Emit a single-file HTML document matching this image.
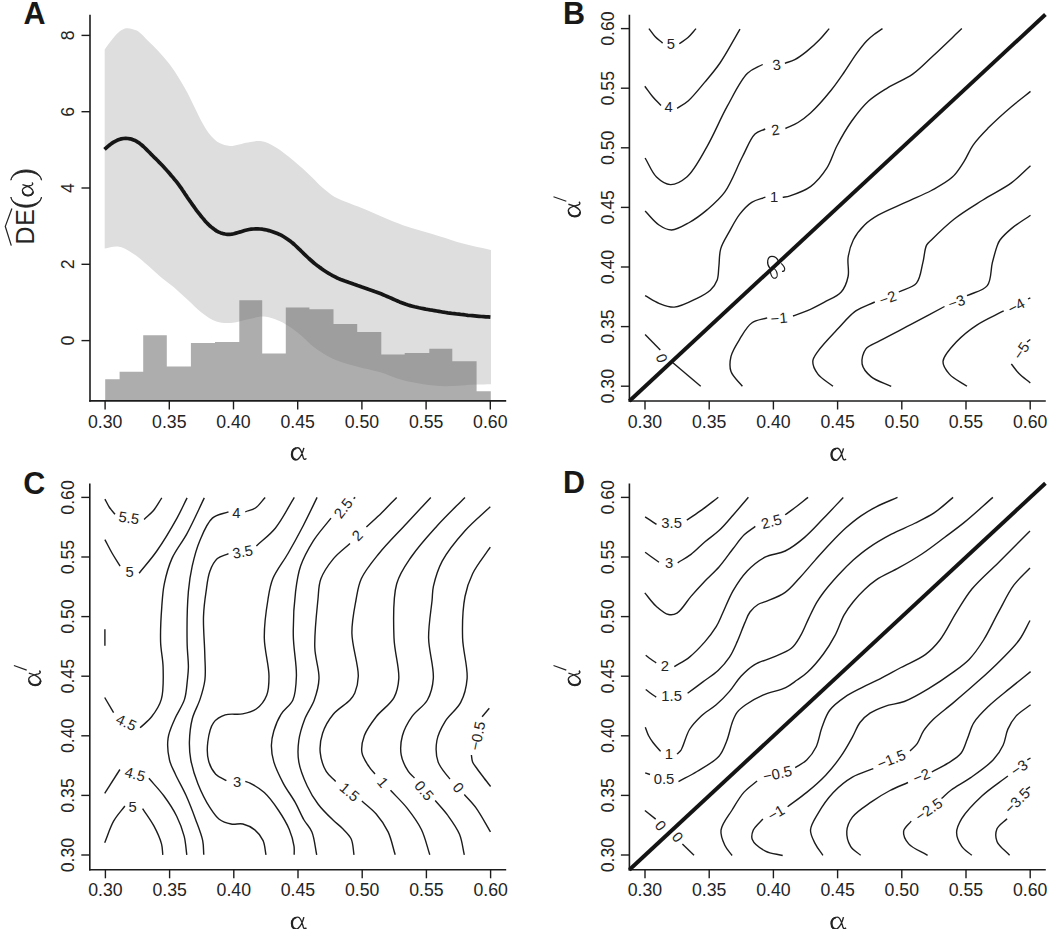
<!DOCTYPE html><html><head><meta charset="utf-8"><style>html,body{margin:0;padding:0;background:#fff;width:1050px;height:929px;overflow:hidden}svg{display:block}</style></head><body><svg width="1050" height="929" viewBox="0 0 1050 929"><path d="M104.7 49.4C106.8 46.5 108.8 43.6 111.1 40.8C113.5 37.9 116.0 34.3 118.7 32.2C121.0 30.4 123.6 28.8 126.0 28.3C128.0 27.9 130.0 28.4 132.0 28.9C134.1 29.4 136.2 30.0 138.4 31.4C141.5 33.4 144.9 37.8 148.2 41.0C151.5 44.2 154.8 47.4 158.0 50.8C161.3 54.4 164.6 58.0 167.8 62.0C171.2 66.3 174.6 71.2 177.6 75.9C180.6 80.5 183.2 85.0 185.9 89.9C188.8 95.2 191.5 101.1 194.3 106.7C197.1 112.3 199.7 118.4 202.7 123.5C205.4 128.1 208.0 132.7 211.1 136.1C213.7 139.0 216.3 141.5 219.5 143.1C222.6 144.7 226.0 145.8 230.0 145.9C235.2 146.1 242.5 143.2 248.1 142.4C252.9 141.7 257.3 140.6 261.7 141.3C266.3 142.0 270.5 144.3 275.2 147.0C281.0 150.3 287.4 155.7 293.3 160.5C299.4 165.5 306.1 171.7 311.4 176.7C315.7 180.8 319.0 184.7 322.9 188.1C326.6 191.3 330.1 194.2 334.3 196.7C338.9 199.4 344.3 201.1 349.5 203.3C355.0 205.6 361.0 207.6 366.7 210.0C372.4 212.4 377.9 215.1 383.8 217.6C390.0 220.2 396.5 223.0 402.9 225.2C409.2 227.4 415.6 229.1 421.9 231.0C428.3 232.9 434.5 234.7 441.0 236.7C447.8 238.8 454.3 241.2 461.9 243.3C470.8 245.7 481.3 247.8 491.0 250.0L491 384.2C486.0 384.3 481.8 384.4 475.9 384.6C467.5 384.9 454.6 386.4 445.2 386.2C437.3 386.0 430.6 385.3 423.3 384.2C416.0 383.1 408.6 381.8 401.4 379.8C394.0 377.8 386.9 374.3 379.5 372.1C372.3 369.9 364.9 368.7 357.6 366.7C350.3 364.7 342.8 363.2 335.7 360.1C328.2 356.8 319.7 351.4 313.8 347.0C309.3 343.7 306.6 340.2 302.9 337.1C299.3 334.0 295.8 331.0 291.9 328.3C287.8 325.5 283.4 322.6 278.8 320.7C274.1 318.7 269.0 316.9 263.9 316.6C258.7 316.3 253.5 318.2 248.1 319.2C242.4 320.3 236.2 322.6 230.7 322.9C225.7 323.2 221.0 322.9 216.4 321.4C211.4 319.8 206.7 316.3 202.1 312.9C197.2 309.3 192.6 304.3 187.9 300.0C183.1 295.7 178.4 291.2 173.6 287.1C168.9 283.1 164.0 279.7 159.3 275.7C154.5 271.6 149.7 266.8 145.0 262.9C140.7 259.3 136.7 255.6 132.1 252.9C127.6 250.2 122.6 247.2 117.9 246.6C113.5 246.0 109.1 247.9 104.7 248.6Z" fill="#dedede" stroke="none"/><path d="M105.2 400.9L105.2 379.3L119.6 379.3L119.6 371.8L143.2 371.8L143.2 335.2L166.8 335.2L166.8 366.6L190.9 366.6L190.9 343.1L215.0 343.1L215.0 341.9L239.3 341.9L239.3 300.2L262.2 300.2L262.2 353.6L285.8 353.6L285.8 307.5L309.4 307.5L309.4 309.3L333.5 309.3L333.5 324.0L357.2 324.0L357.2 332.0L381.3 332.0L381.3 354.6L404.7 354.6L404.7 353.1L429.3 353.1L429.3 348.7L452.3 348.7L452.3 361.2L476.6 361.2L476.6 391.2L490.8 391.2L490.8 400.9Z" fill="#696969" fill-opacity="0.545" stroke="none"/><path d="M104.5 149.4L106.2 147.9L107.9 146.4L109.6 145.0L111.4 143.6L113.2 142.4L115.1 141.3L117.1 140.3L119.2 139.5L121.3 138.9L123.5 138.5L125.7 138.4L127.9 138.5L130.1 138.8L132.2 139.4L134.3 140.2L136.2 141.2L138.1 142.3L139.9 143.6L141.7 145.0L143.4 146.5L145.0 148.0L146.6 149.6L148.2 151.2L149.8 152.8L151.3 154.4L152.9 156.0L154.5 157.6L156.2 159.2L157.8 160.8L159.3 162.4L160.9 164.0L162.4 165.6L164.0 167.3L165.5 168.9L167.0 170.6L168.5 172.3L170.0 174.0L171.4 175.7L172.9 177.4L174.3 179.2L175.8 180.9L177.2 182.7L178.5 184.4L179.9 186.3L181.2 188.1L182.4 190.0L183.7 191.8L184.9 193.7L186.2 195.6L187.4 197.5L188.7 199.3L190.0 201.2L191.3 203.0L192.6 204.9L193.9 206.7L195.2 208.5L196.5 210.3L197.9 212.1L199.3 213.9L200.7 215.7L202.1 217.4L203.6 219.1L205.0 220.9L206.5 222.5L208.1 224.1L209.7 225.7L211.4 227.1L213.2 228.5L215.0 229.9L216.8 231.1L218.8 232.1L220.8 232.9L223.0 233.6L225.1 234.0L227.3 234.3L229.5 234.3L231.7 234.1L233.8 233.7L236.0 233.1L238.2 232.5L240.3 231.9L242.5 231.2L244.6 230.5L246.8 230.0L249.0 229.5L251.2 229.2L253.4 229.0L255.7 228.9L257.9 228.9L260.1 229.0L262.4 229.2L264.6 229.6L266.8 230.0L268.9 230.6L271.1 231.3L273.2 232.0L275.3 232.8L277.4 233.6L279.5 234.4L281.5 235.4L283.4 236.5L285.3 237.7L287.2 239.0L289.0 240.3L290.8 241.6L292.6 243.0L294.3 244.5L295.9 246.0L297.6 247.6L299.2 249.2L300.8 250.7L302.4 252.3L304.0 253.9L305.6 255.4L307.3 257.0L308.9 258.5L310.6 260.0L312.3 261.5L314.0 263.0L315.7 264.4L317.5 265.8L319.3 267.1L321.2 268.4L323.0 269.7L324.9 271.0L326.8 272.2L328.7 273.4L330.6 274.5L332.6 275.6L334.6 276.6L336.6 277.7L338.6 278.6L340.7 279.5L342.8 280.3L344.9 281.1L347.0 281.8L349.1 282.6L351.3 283.3L353.4 284.1L355.5 284.8L357.6 285.6L359.8 286.3L361.9 287.1L364.0 287.8L366.2 288.5L368.3 289.3L370.4 290.0L372.6 290.7L374.7 291.5L376.8 292.2L378.9 293.0L381.0 293.8L383.1 294.7L385.2 295.6L387.2 296.5L389.3 297.4L391.4 298.3L393.4 299.2L395.5 300.1L397.5 301.0L399.6 301.9L401.7 302.7L403.8 303.5L405.9 304.3L408.1 305.0L410.2 305.6L412.4 306.2L414.6 306.8L416.8 307.3L419.0 307.8L421.2 308.2L423.4 308.6L425.6 309.1L427.8 309.5L430.0 309.9L432.3 310.2L434.5 310.6L436.7 311.0L438.9 311.4L441.1 311.8L443.4 312.2L445.6 312.5L447.8 312.9L450.0 313.2L452.3 313.5L454.5 313.7L456.8 314.0L459.0 314.2L461.2 314.5L463.5 314.7L465.7 315.0L467.9 315.3L470.2 315.5L472.4 315.7L474.7 315.9L476.9 316.1L479.2 316.3L481.4 316.5L483.7 316.6L485.9 316.8L488.2 316.9L490.4 317.1" fill="none" stroke="#161616" stroke-width="3.70" stroke-linejoin="round"/><line x1="90.0" y1="14.7" x2="90.0" y2="401.7" stroke="#1c1c1c" stroke-width="1.60"/><line x1="89.2" y1="400.9" x2="506.2" y2="400.9" stroke="#1c1c1c" stroke-width="1.60"/><line x1="105.1" y1="400.9" x2="105.1" y2="409.4" stroke="#1c1c1c" stroke-width="1.40"/><text x="105.10" y="428.10" font-size="17.70" text-anchor="middle" font-weight="normal" font-family='"Liberation Sans", sans-serif' fill="#242424">0.30</text><line x1="169.3" y1="400.9" x2="169.3" y2="409.4" stroke="#1c1c1c" stroke-width="1.40"/><text x="169.30" y="428.10" font-size="17.70" text-anchor="middle" font-weight="normal" font-family='"Liberation Sans", sans-serif' fill="#242424">0.35</text><line x1="233.5" y1="400.9" x2="233.5" y2="409.4" stroke="#1c1c1c" stroke-width="1.40"/><text x="233.50" y="428.10" font-size="17.70" text-anchor="middle" font-weight="normal" font-family='"Liberation Sans", sans-serif' fill="#242424">0.40</text><line x1="297.7" y1="400.9" x2="297.7" y2="409.4" stroke="#1c1c1c" stroke-width="1.40"/><text x="297.70" y="428.10" font-size="17.70" text-anchor="middle" font-weight="normal" font-family='"Liberation Sans", sans-serif' fill="#242424">0.45</text><line x1="361.9" y1="400.9" x2="361.9" y2="409.4" stroke="#1c1c1c" stroke-width="1.40"/><text x="361.90" y="428.10" font-size="17.70" text-anchor="middle" font-weight="normal" font-family='"Liberation Sans", sans-serif' fill="#242424">0.50</text><line x1="426.1" y1="400.9" x2="426.1" y2="409.4" stroke="#1c1c1c" stroke-width="1.40"/><text x="426.10" y="428.10" font-size="17.70" text-anchor="middle" font-weight="normal" font-family='"Liberation Sans", sans-serif' fill="#242424">0.55</text><line x1="490.3" y1="400.9" x2="490.3" y2="409.4" stroke="#1c1c1c" stroke-width="1.40"/><text x="490.30" y="428.10" font-size="17.70" text-anchor="middle" font-weight="normal" font-family='"Liberation Sans", sans-serif' fill="#242424">0.60</text><line x1="81.5" y1="340.6" x2="90.0" y2="340.6" stroke="#1c1c1c" stroke-width="1.40"/><text x="73.60" y="340.60" font-size="17.70" text-anchor="middle" font-weight="normal" font-family='"Liberation Sans", sans-serif' fill="#242424" transform="rotate(-90.0 73.6 340.6)">0</text><line x1="81.5" y1="264.3" x2="90.0" y2="264.3" stroke="#1c1c1c" stroke-width="1.40"/><text x="73.60" y="264.30" font-size="17.70" text-anchor="middle" font-weight="normal" font-family='"Liberation Sans", sans-serif' fill="#242424" transform="rotate(-90.0 73.6 264.3)">2</text><line x1="81.5" y1="188.0" x2="90.0" y2="188.0" stroke="#1c1c1c" stroke-width="1.40"/><text x="73.60" y="188.00" font-size="17.70" text-anchor="middle" font-weight="normal" font-family='"Liberation Sans", sans-serif' fill="#242424" transform="rotate(-90.0 73.6 188.0)">4</text><line x1="81.5" y1="111.7" x2="90.0" y2="111.7" stroke="#1c1c1c" stroke-width="1.40"/><text x="73.60" y="111.70" font-size="17.70" text-anchor="middle" font-weight="normal" font-family='"Liberation Sans", sans-serif' fill="#242424" transform="rotate(-90.0 73.6 111.7)">6</text><line x1="81.5" y1="35.4" x2="90.0" y2="35.4" stroke="#1c1c1c" stroke-width="1.40"/><text x="73.60" y="35.40" font-size="17.70" text-anchor="middle" font-weight="normal" font-family='"Liberation Sans", sans-serif' fill="#242424" transform="rotate(-90.0 73.6 35.4)">8</text><g transform="translate(291.00 447.50)"><path d="M12.9 0.4C12 4 10.5 9 7 11.6C4.6 13.3 0.5 12.2 0.5 6.6C0.5 2.6 3.5 0.3 6.8 0.3C10 0.3 11.1 6 12.2 10C12.8 12 14 12.6 15.4 10.9" fill="none" stroke="#242424" stroke-width="1.4"/><path d="M5.2 12.1C2.2 11.8 1.1 9.4 1.1 6.6C1.1 3.8 2.6 1.2 5.3 0.8" fill="none" stroke="#242424" stroke-width="1.9"/></g><text x="23.60" y="24.10" font-size="30.50" text-anchor="start" font-weight="bold" font-family='"Liberation Sans", sans-serif' fill="#181818">A</text><text x="33.90" y="244.60" font-size="25.00" text-anchor="start" font-weight="normal" font-family='"Liberation Sans", sans-serif' fill="#242424" transform="rotate(-90.0 33.9 244.6)">D</text><text x="33.90" y="225.80" font-size="25.00" text-anchor="start" font-weight="normal" font-family='"Liberation Sans", sans-serif' fill="#242424" transform="rotate(-90.0 33.9 225.8)">E</text><path d="M10.9 197.0C12.6 210.6 39.8 210.6 41.5 197.0C39.8 208.0 12.6 208.0 10.9 197.0Z" fill="#242424" stroke="#242424" stroke-width="0.9"/><path d="M10.9 180.2C12.6 166.6 39.8 166.6 41.5 180.2C39.8 169.2 12.6 169.2 10.9 180.2Z" fill="#242424" stroke="#242424" stroke-width="0.9"/><g transform="translate(22.10 196.30) rotate(-90) scale(0.900)"><path d="M12.9 0.4C12 4 10.5 9 7 11.6C4.6 13.3 0.5 12.2 0.5 6.6C0.5 2.6 3.5 0.3 6.8 0.3C10 0.3 11.1 6 12.2 10C12.8 12 14 12.6 15.4 10.9" fill="none" stroke="#242424" stroke-width="1.4"/><path d="M5.2 12.1C2.2 11.8 1.1 9.4 1.1 6.6C1.1 3.8 2.6 1.2 5.3 0.8" fill="none" stroke="#242424" stroke-width="1.9"/></g><path d="M11.9 208.5L5.3 226.4L11.3 245.6" fill="none" stroke="#242424" stroke-width="1.25"/><g fill="none" stroke="#1c1c1c" stroke-width="1.2"><path d="M769.8 268.2C766.2 263.5 767.2 256.6 771.8 256.4C775.2 256.3 777.3 258.6 778.4 261"/><ellipse cx="773.9" cy="273.4" rx="3.1" ry="5" transform="rotate(-18 773.9 273.4)"/><path d="M781.2 263.4C783.5 265.5 785 268 784.6 269.7C784.2 271 783 271.6 782 271.4"/></g><line x1="629.4" y1="14.7" x2="629.4" y2="401.8" stroke="#1c1c1c" stroke-width="1.60"/><line x1="628.6" y1="401.0" x2="1045.8" y2="401.0" stroke="#1c1c1c" stroke-width="1.60"/><line x1="645.0" y1="401.0" x2="645.0" y2="409.5" stroke="#1c1c1c" stroke-width="1.40"/><text x="645.00" y="428.10" font-size="17.70" text-anchor="middle" font-weight="normal" font-family='"Liberation Sans", sans-serif' fill="#242424">0.30</text><line x1="709.2" y1="401.0" x2="709.2" y2="409.5" stroke="#1c1c1c" stroke-width="1.40"/><text x="709.20" y="428.10" font-size="17.70" text-anchor="middle" font-weight="normal" font-family='"Liberation Sans", sans-serif' fill="#242424">0.35</text><line x1="773.4" y1="401.0" x2="773.4" y2="409.5" stroke="#1c1c1c" stroke-width="1.40"/><text x="773.40" y="428.10" font-size="17.70" text-anchor="middle" font-weight="normal" font-family='"Liberation Sans", sans-serif' fill="#242424">0.40</text><line x1="837.6" y1="401.0" x2="837.6" y2="409.5" stroke="#1c1c1c" stroke-width="1.40"/><text x="837.60" y="428.10" font-size="17.70" text-anchor="middle" font-weight="normal" font-family='"Liberation Sans", sans-serif' fill="#242424">0.45</text><line x1="901.8" y1="401.0" x2="901.8" y2="409.5" stroke="#1c1c1c" stroke-width="1.40"/><text x="901.80" y="428.10" font-size="17.70" text-anchor="middle" font-weight="normal" font-family='"Liberation Sans", sans-serif' fill="#242424">0.50</text><line x1="966.0" y1="401.0" x2="966.0" y2="409.5" stroke="#1c1c1c" stroke-width="1.40"/><text x="966.00" y="428.10" font-size="17.70" text-anchor="middle" font-weight="normal" font-family='"Liberation Sans", sans-serif' fill="#242424">0.55</text><line x1="1030.2" y1="401.0" x2="1030.2" y2="409.5" stroke="#1c1c1c" stroke-width="1.40"/><text x="1030.20" y="428.10" font-size="17.70" text-anchor="middle" font-weight="normal" font-family='"Liberation Sans", sans-serif' fill="#242424">0.60</text><line x1="620.9" y1="386.2" x2="629.4" y2="386.2" stroke="#1c1c1c" stroke-width="1.40"/><text x="613.80" y="386.20" font-size="17.70" text-anchor="middle" font-weight="normal" font-family='"Liberation Sans", sans-serif' fill="#242424" transform="rotate(-90.0 613.8 386.2)">0.30</text><line x1="620.9" y1="326.6" x2="629.4" y2="326.6" stroke="#1c1c1c" stroke-width="1.40"/><text x="613.80" y="326.60" font-size="17.70" text-anchor="middle" font-weight="normal" font-family='"Liberation Sans", sans-serif' fill="#242424" transform="rotate(-90.0 613.8 326.6)">0.35</text><line x1="620.9" y1="267.0" x2="629.4" y2="267.0" stroke="#1c1c1c" stroke-width="1.40"/><text x="613.80" y="267.00" font-size="17.70" text-anchor="middle" font-weight="normal" font-family='"Liberation Sans", sans-serif' fill="#242424" transform="rotate(-90.0 613.8 267.0)">0.40</text><line x1="620.9" y1="207.4" x2="629.4" y2="207.4" stroke="#1c1c1c" stroke-width="1.40"/><text x="613.80" y="207.40" font-size="17.70" text-anchor="middle" font-weight="normal" font-family='"Liberation Sans", sans-serif' fill="#242424" transform="rotate(-90.0 613.8 207.4)">0.45</text><line x1="620.9" y1="147.8" x2="629.4" y2="147.8" stroke="#1c1c1c" stroke-width="1.40"/><text x="613.80" y="147.80" font-size="17.70" text-anchor="middle" font-weight="normal" font-family='"Liberation Sans", sans-serif' fill="#242424" transform="rotate(-90.0 613.8 147.8)">0.50</text><line x1="620.9" y1="88.2" x2="629.4" y2="88.2" stroke="#1c1c1c" stroke-width="1.40"/><text x="613.80" y="88.20" font-size="17.70" text-anchor="middle" font-weight="normal" font-family='"Liberation Sans", sans-serif' fill="#242424" transform="rotate(-90.0 613.8 88.2)">0.55</text><line x1="620.9" y1="28.6" x2="629.4" y2="28.6" stroke="#1c1c1c" stroke-width="1.40"/><text x="613.80" y="28.60" font-size="17.70" text-anchor="middle" font-weight="normal" font-family='"Liberation Sans", sans-serif' fill="#242424" transform="rotate(-90.0 613.8 28.6)">0.60</text><g transform="translate(830.60 448.00)"><path d="M12.9 0.4C12 4 10.5 9 7 11.6C4.6 13.3 0.5 12.2 0.5 6.6C0.5 2.6 3.5 0.3 6.8 0.3C10 0.3 11.1 6 12.2 10C12.8 12 14 12.6 15.4 10.9" fill="none" stroke="#242424" stroke-width="1.4"/><path d="M5.2 12.1C2.2 11.8 1.1 9.4 1.1 6.6C1.1 3.8 2.6 1.2 5.3 0.8" fill="none" stroke="#242424" stroke-width="1.9"/></g><g transform="translate(568.00 217.20) rotate(-90)"><path d="M12.9 0.4C12 4 10.5 9 7 11.6C4.6 13.3 0.5 12.2 0.5 6.6C0.5 2.6 3.5 0.3 6.8 0.3C10 0.3 11.1 6 12.2 10C12.8 12 14 12.6 15.4 10.9" fill="none" stroke="#242424" stroke-width="1.4"/><path d="M5.2 12.1C2.2 11.8 1.1 9.4 1.1 6.6C1.1 3.8 2.6 1.2 5.3 0.8" fill="none" stroke="#242424" stroke-width="1.9"/></g><line x1="553.5" y1="196.7" x2="566.3" y2="201.3" stroke="#242424" stroke-width="1.20"/><text x="562.90" y="24.10" font-size="30.50" text-anchor="start" font-weight="bold" font-family='"Liberation Sans", sans-serif' fill="#181818">B</text><path d="M648.9 28.6C650.9 31.2 652.7 34.1 655.0 36.5C657.3 38.9 660.1 40.9 662.6 43.1" fill="none" stroke="#1c1c1c" stroke-width="1.40" stroke-linejoin="round"/><path d="M679.3 43.7C682.2 41.6 685.3 39.9 688.0 37.5C690.9 34.9 693.3 31.6 696.0 28.6" fill="none" stroke="#1c1c1c" stroke-width="1.40" stroke-linejoin="round"/><path d="M644.8 86.2C647.4 89.6 649.8 93.2 652.5 96.5C655.2 99.7 658.2 102.6 661.0 105.6" fill="none" stroke="#1c1c1c" stroke-width="1.40" stroke-linejoin="round"/><path d="M677.1 108.3C680.9 105.8 684.5 104.1 688.4 100.7C693.6 96.1 699.3 88.7 704.6 82.4C709.9 76.1 714.8 70.6 720.0 63.0C726.6 53.5 733.3 40.4 740.0 29.1" fill="none" stroke="#1c1c1c" stroke-width="1.40" stroke-linejoin="round"/><path d="M645.1 158.0C648.9 164.3 651.8 172.5 656.5 177.0C660.5 180.8 665.5 184.4 670.4 184.6C675.6 184.8 681.6 181.4 686.8 177.0C694.1 170.7 700.6 157.7 707.0 146.6C714.1 134.3 720.3 118.8 727.3 106.2C733.8 94.5 740.3 80.3 747.5 73.3C752.4 68.6 757.6 67.4 762.7 64.5" fill="none" stroke="#1c1c1c" stroke-width="1.40" stroke-linejoin="round"/><path d="M784.9 63.3C788.2 62.1 791.5 61.3 794.8 59.6C798.6 57.6 802.5 54.7 806.4 51.6C810.7 48.2 815.6 43.8 819.5 39.8C823.1 36.1 826.0 32.3 829.2 28.6" fill="none" stroke="#1c1c1c" stroke-width="1.40" stroke-linejoin="round"/><path d="M645.1 211.1C649.7 215.7 654.1 221.8 659.0 225.0C663.0 227.7 667.1 230.1 671.6 230.0C677.0 229.9 683.6 225.7 689.3 222.5C695.4 219.1 701.3 214.7 707.0 209.9C713.1 204.7 719.3 199.6 724.7 192.2C731.4 182.8 736.9 167.3 742.4 156.8C746.9 148.3 750.2 138.5 755.0 134.0C758.2 131.0 761.8 130.7 765.2 129.0" fill="none" stroke="#1c1c1c" stroke-width="1.40" stroke-linejoin="round"/><path d="M785.4 128.5C789.6 126.5 793.9 125.0 798.0 122.5C802.3 119.9 806.0 117.1 810.5 113.0C816.7 107.3 825.0 97.8 830.9 90.5C836.0 84.2 840.0 78.2 844.3 72.0C848.6 65.8 852.7 58.9 856.7 53.4C860.1 48.8 863.3 44.5 866.6 41.0C869.4 38.1 872.4 35.8 875.2 33.6C877.7 31.7 880.1 30.3 882.5 28.6" fill="none" stroke="#1c1c1c" stroke-width="1.40" stroke-linejoin="round"/><path d="M645.1 295.7C649.7 298.2 654.1 301.4 659.0 303.3C663.8 305.2 668.7 307.4 674.2 307.1C681.1 306.7 690.5 301.5 697.0 298.3C702.2 295.8 706.8 293.5 710.3 290.2C713.4 287.2 715.8 283.8 717.2 279.9C718.7 275.8 718.3 271.0 718.9 266.1C719.5 260.7 719.1 254.5 720.7 248.9C722.4 243.0 726.2 237.4 729.3 231.7C732.5 225.9 735.7 219.4 739.6 214.4C743.2 209.8 747.2 205.3 751.7 202.4C755.9 199.7 760.8 198.9 765.4 197.2" fill="none" stroke="#1c1c1c" stroke-width="1.40" stroke-linejoin="round"/><path d="M782.7 197.4C785.1 196.9 787.0 196.8 790.0 195.8C795.2 194.1 804.5 191.0 810.5 186.6C816.8 182.0 822.4 175.0 826.8 168.2C831.2 161.4 833.1 153.2 837.0 145.7C841.2 137.7 846.1 129.0 851.4 121.5C856.6 114.2 862.3 106.7 868.6 101.0C874.5 95.7 880.7 92.1 887.6 87.8C895.3 83.1 905.0 79.5 912.7 74.1C920.2 68.8 925.8 62.5 933.2 55.7C942.0 47.6 952.3 37.6 961.8 28.6" fill="none" stroke="#1c1c1c" stroke-width="1.40" stroke-linejoin="round"/><path d="M645.1 334.4L660.3 350.1" fill="none" stroke="#1c1c1c" stroke-width="1.40" stroke-linejoin="round"/><path d="M672.9 362.7L700.7 386.3" fill="none" stroke="#1c1c1c" stroke-width="1.40" stroke-linejoin="round"/><path d="M742.4 386.3C738.6 381.4 732.8 376.9 731.0 371.6C729.4 366.8 729.8 361.5 731.0 356.4C732.4 350.6 736.5 344.3 740.0 338.7C743.4 333.2 746.9 326.5 751.7 323.0C756.1 319.8 762.0 319.5 767.2 317.8" fill="none" stroke="#1c1c1c" stroke-width="1.40" stroke-linejoin="round"/><path d="M793.0 316.0C797.6 314.3 802.0 313.0 806.8 310.9C812.3 308.5 818.3 305.4 824.0 302.3C829.8 299.1 837.2 296.6 841.2 292.0C844.9 287.8 846.9 282.1 848.1 276.5C849.4 270.6 847.2 263.6 848.1 257.5C849.0 251.5 850.6 245.4 853.3 240.0C856.1 234.5 860.5 229.0 864.8 224.8C868.8 220.9 872.6 218.4 878.1 215.2C885.7 210.8 897.5 206.2 906.7 201.9C915.2 197.9 923.6 194.7 931.4 190.5C938.8 186.4 946.8 182.3 952.4 177.1C957.3 172.6 960.3 167.2 963.8 161.9C967.3 156.5 969.4 150.3 973.3 144.8C977.5 138.8 982.8 133.5 988.6 127.6C995.3 120.8 1004.0 113.0 1011.4 106.7C1018.0 101.1 1024.1 96.5 1030.5 91.4" fill="none" stroke="#1c1c1c" stroke-width="1.40" stroke-linejoin="round"/><path d="M833.0 386.3C828.0 382.2 821.3 378.7 817.9 374.1C815.1 370.3 812.6 365.4 812.8 361.5C812.9 357.9 815.3 355.2 817.9 351.4C822.2 345.1 831.5 335.6 838.1 328.6C844.1 322.2 849.4 315.4 855.8 310.9C861.7 306.8 868.5 305.0 874.8 302.0" fill="none" stroke="#1c1c1c" stroke-width="1.40" stroke-linejoin="round"/><path d="M898.8 292.0C904.7 289.0 912.5 287.8 916.5 283.1C920.6 278.2 921.1 269.4 922.8 262.9C924.4 256.8 924.5 249.2 926.6 245.2C927.9 242.7 929.1 242.3 931.4 240.0C936.1 235.3 946.0 225.5 954.3 219.0C963.1 212.1 973.3 206.1 982.9 200.0C992.3 194.0 1003.1 189.0 1011.4 182.9C1018.7 177.5 1024.1 171.4 1030.5 165.7" fill="none" stroke="#1c1c1c" stroke-width="1.40" stroke-linejoin="round"/><path d="M891.2 386.3C884.5 383.1 876.0 380.8 871.0 376.6C866.8 373.1 863.0 368.6 862.1 364.0C861.2 359.4 863.0 352.7 865.9 348.8C868.9 344.9 874.3 343.8 880.0 340.7C888.6 336.0 901.6 329.4 912.4 323.7C923.1 318.0 933.8 312.2 944.5 306.5" fill="none" stroke="#1c1c1c" stroke-width="1.40" stroke-linejoin="round"/><path d="M967.0 295.7C973.8 292.3 983.1 291.0 987.3 285.6C991.6 280.1 990.5 270.0 992.3 262.9C993.9 256.6 995.8 249.3 997.4 245.2C998.3 242.9 998.6 241.9 1000.0 240.0C1002.3 236.8 1006.9 232.4 1011.4 228.6C1016.8 224.1 1024.1 219.7 1030.5 215.2" fill="none" stroke="#1c1c1c" stroke-width="1.40" stroke-linejoin="round"/><path d="M967.0 386.3C961.1 382.2 953.5 378.8 949.4 374.1C946.1 370.3 942.7 366.1 943.0 361.5C943.4 355.4 951.4 347.3 957.0 341.3C962.8 335.1 969.7 329.7 977.2 324.8C985.2 319.5 994.9 315.5 1003.7 310.9" fill="none" stroke="#1c1c1c" stroke-width="1.40" stroke-linejoin="round"/><path d="M1030.3 297.8L1028.0 299.0" fill="none" stroke="#1c1c1c" stroke-width="1.40" stroke-linejoin="round"/><path d="M1030.3 383.0C1026.5 379.8 1022.3 376.8 1019.0 373.5C1016.0 370.5 1013.9 367.2 1011.3 364.0" fill="none" stroke="#1c1c1c" stroke-width="1.40" stroke-linejoin="round"/><path d="M1030.3 339.5L1027.0 342.0" fill="none" stroke="#1c1c1c" stroke-width="1.40" stroke-linejoin="round"/><text x="670.90" y="44.00" font-size="14.80" text-anchor="middle" font-weight="normal" font-family='"Liberation Sans", sans-serif' fill="#242424" dominant-baseline="central">5</text><text x="668.60" y="107.30" font-size="14.80" text-anchor="middle" font-weight="normal" font-family='"Liberation Sans", sans-serif' fill="#242424" dominant-baseline="central">4</text><text x="776.60" y="65.00" font-size="14.80" text-anchor="middle" font-weight="normal" font-family='"Liberation Sans", sans-serif' fill="#242424" transform="rotate(-8.0 776.6 65.0)" dominant-baseline="central">3</text><text x="775.30" y="130.00" font-size="14.80" text-anchor="middle" font-weight="normal" font-family='"Liberation Sans", sans-serif' fill="#242424" transform="rotate(-8.0 775.3 130.0)" dominant-baseline="central">2</text><text x="774.10" y="197.00" font-size="14.80" text-anchor="middle" font-weight="normal" font-family='"Liberation Sans", sans-serif' fill="#242424" dominant-baseline="central">1</text><text x="661.50" y="358.40" font-size="14.80" text-anchor="middle" font-weight="normal" font-family='"Liberation Sans", sans-serif' fill="#242424" transform="rotate(71.0 661.5 358.4)" dominant-baseline="central">0</text><text x="779.00" y="318.20" font-size="14.80" text-anchor="middle" font-weight="normal" font-family='"Liberation Sans", sans-serif' fill="#242424" transform="rotate(-5.0 779.0 318.2)" dominant-baseline="central">&#8722;1</text><text x="887.80" y="298.20" font-size="14.80" text-anchor="middle" font-weight="normal" font-family='"Liberation Sans", sans-serif' fill="#242424" transform="rotate(-20.0 887.8 298.2)" dominant-baseline="central">&#8722;2</text><text x="956.50" y="302.00" font-size="14.80" text-anchor="middle" font-weight="normal" font-family='"Liberation Sans", sans-serif' fill="#242424" transform="rotate(-20.0 956.5 302.0)" dominant-baseline="central">&#8722;3</text><text x="1016.30" y="306.20" font-size="14.80" text-anchor="middle" font-weight="normal" font-family='"Liberation Sans", sans-serif' fill="#242424" transform="rotate(-28.0 1016.3 306.2)" dominant-baseline="central">&#8722;4</text><text x="1021.40" y="350.90" font-size="14.80" text-anchor="middle" font-weight="normal" font-family='"Liberation Sans", sans-serif' fill="#242424" transform="rotate(-55.0 1021.4 350.9)" dominant-baseline="central">&#8722;5</text><line x1="629.4" y1="401.0" x2="1045.4" y2="14.5" stroke="#141414" stroke-width="3.90"/><line x1="89.8" y1="483.5" x2="89.8" y2="870.6" stroke="#1c1c1c" stroke-width="1.60"/><line x1="89.0" y1="869.8" x2="506.2" y2="869.8" stroke="#1c1c1c" stroke-width="1.60"/><line x1="105.4" y1="869.8" x2="105.4" y2="878.3" stroke="#1c1c1c" stroke-width="1.40"/><text x="105.40" y="896.30" font-size="17.70" text-anchor="middle" font-weight="normal" font-family='"Liberation Sans", sans-serif' fill="#242424">0.30</text><line x1="169.6" y1="869.8" x2="169.6" y2="878.3" stroke="#1c1c1c" stroke-width="1.40"/><text x="169.60" y="896.30" font-size="17.70" text-anchor="middle" font-weight="normal" font-family='"Liberation Sans", sans-serif' fill="#242424">0.35</text><line x1="233.8" y1="869.8" x2="233.8" y2="878.3" stroke="#1c1c1c" stroke-width="1.40"/><text x="233.80" y="896.30" font-size="17.70" text-anchor="middle" font-weight="normal" font-family='"Liberation Sans", sans-serif' fill="#242424">0.40</text><line x1="298.0" y1="869.8" x2="298.0" y2="878.3" stroke="#1c1c1c" stroke-width="1.40"/><text x="298.00" y="896.30" font-size="17.70" text-anchor="middle" font-weight="normal" font-family='"Liberation Sans", sans-serif' fill="#242424">0.45</text><line x1="362.2" y1="869.8" x2="362.2" y2="878.3" stroke="#1c1c1c" stroke-width="1.40"/><text x="362.20" y="896.30" font-size="17.70" text-anchor="middle" font-weight="normal" font-family='"Liberation Sans", sans-serif' fill="#242424">0.50</text><line x1="426.4" y1="869.8" x2="426.4" y2="878.3" stroke="#1c1c1c" stroke-width="1.40"/><text x="426.40" y="896.30" font-size="17.70" text-anchor="middle" font-weight="normal" font-family='"Liberation Sans", sans-serif' fill="#242424">0.55</text><line x1="490.6" y1="869.8" x2="490.6" y2="878.3" stroke="#1c1c1c" stroke-width="1.40"/><text x="490.60" y="896.30" font-size="17.70" text-anchor="middle" font-weight="normal" font-family='"Liberation Sans", sans-serif' fill="#242424">0.60</text><line x1="81.3" y1="855.0" x2="89.8" y2="855.0" stroke="#1c1c1c" stroke-width="1.40"/><text x="74.20" y="855.00" font-size="17.70" text-anchor="middle" font-weight="normal" font-family='"Liberation Sans", sans-serif' fill="#242424" transform="rotate(-90.0 74.2 855.0)">0.30</text><line x1="81.3" y1="795.4" x2="89.8" y2="795.4" stroke="#1c1c1c" stroke-width="1.40"/><text x="74.20" y="795.40" font-size="17.70" text-anchor="middle" font-weight="normal" font-family='"Liberation Sans", sans-serif' fill="#242424" transform="rotate(-90.0 74.2 795.4)">0.35</text><line x1="81.3" y1="735.8" x2="89.8" y2="735.8" stroke="#1c1c1c" stroke-width="1.40"/><text x="74.20" y="735.80" font-size="17.70" text-anchor="middle" font-weight="normal" font-family='"Liberation Sans", sans-serif' fill="#242424" transform="rotate(-90.0 74.2 735.8)">0.40</text><line x1="81.3" y1="676.2" x2="89.8" y2="676.2" stroke="#1c1c1c" stroke-width="1.40"/><text x="74.20" y="676.20" font-size="17.70" text-anchor="middle" font-weight="normal" font-family='"Liberation Sans", sans-serif' fill="#242424" transform="rotate(-90.0 74.2 676.2)">0.45</text><line x1="81.3" y1="616.6" x2="89.8" y2="616.6" stroke="#1c1c1c" stroke-width="1.40"/><text x="74.20" y="616.60" font-size="17.70" text-anchor="middle" font-weight="normal" font-family='"Liberation Sans", sans-serif' fill="#242424" transform="rotate(-90.0 74.2 616.6)">0.50</text><line x1="81.3" y1="557.0" x2="89.8" y2="557.0" stroke="#1c1c1c" stroke-width="1.40"/><text x="74.20" y="557.00" font-size="17.70" text-anchor="middle" font-weight="normal" font-family='"Liberation Sans", sans-serif' fill="#242424" transform="rotate(-90.0 74.2 557.0)">0.55</text><line x1="81.3" y1="497.4" x2="89.8" y2="497.4" stroke="#1c1c1c" stroke-width="1.40"/><text x="74.20" y="497.40" font-size="17.70" text-anchor="middle" font-weight="normal" font-family='"Liberation Sans", sans-serif' fill="#242424" transform="rotate(-90.0 74.2 497.4)">0.60</text><g transform="translate(291.00 916.80)"><path d="M12.9 0.4C12 4 10.5 9 7 11.6C4.6 13.3 0.5 12.2 0.5 6.6C0.5 2.6 3.5 0.3 6.8 0.3C10 0.3 11.1 6 12.2 10C12.8 12 14 12.6 15.4 10.9" fill="none" stroke="#242424" stroke-width="1.4"/><path d="M5.2 12.1C2.2 11.8 1.1 9.4 1.1 6.6C1.1 3.8 2.6 1.2 5.3 0.8" fill="none" stroke="#242424" stroke-width="1.9"/></g><g transform="translate(28.40 686.00) rotate(-90)"><path d="M12.9 0.4C12 4 10.5 9 7 11.6C4.6 13.3 0.5 12.2 0.5 6.6C0.5 2.6 3.5 0.3 6.8 0.3C10 0.3 11.1 6 12.2 10C12.8 12 14 12.6 15.4 10.9" fill="none" stroke="#242424" stroke-width="1.4"/><path d="M5.2 12.1C2.2 11.8 1.1 9.4 1.1 6.6C1.1 3.8 2.6 1.2 5.3 0.8" fill="none" stroke="#242424" stroke-width="1.9"/></g><line x1="13.9" y1="665.5" x2="26.7" y2="670.1" stroke="#242424" stroke-width="1.20"/><text x="23.20" y="493.70" font-size="30.50" text-anchor="start" font-weight="bold" font-family='"Liberation Sans", sans-serif' fill="#181818">C</text><path d="M104.9 499.1C106.4 501.9 107.8 504.9 109.5 507.5C111.2 510.0 113.2 512.0 115.0 514.3" fill="none" stroke="#1c1c1c" stroke-width="1.40" stroke-linejoin="round"/><path d="M144.1 519.4C147.2 516.4 150.6 513.9 153.5 510.5C156.6 506.8 159.0 502.1 161.8 497.9" fill="none" stroke="#1c1c1c" stroke-width="1.40" stroke-linejoin="round"/><path d="M104.9 539.6C107.3 544.1 109.5 548.6 112.0 553.0C114.5 557.4 117.4 561.7 120.1 566.1" fill="none" stroke="#1c1c1c" stroke-width="1.40" stroke-linejoin="round"/><path d="M139.1 573.2C145.0 565.8 151.0 559.3 156.8 551.0C163.6 541.3 171.6 527.8 177.0 518.1C181.1 510.6 183.7 504.6 187.1 497.9" fill="none" stroke="#1c1c1c" stroke-width="1.40" stroke-linejoin="round"/><path d="M204.3 497.9C198.6 509.7 192.9 522.6 187.1 533.3C182.1 542.6 175.7 549.9 171.9 558.6C168.3 566.8 166.0 575.5 164.3 583.8C162.7 591.5 162.4 598.2 161.8 606.6C161.0 617.1 160.3 631.2 160.6 642.0C160.9 651.2 162.9 658.4 163.1 667.3C163.3 677.4 163.9 690.6 161.3 699.4C159.3 706.4 155.4 711.9 151.6 716.8C148.2 721.2 143.9 724.1 140.1 727.8" fill="none" stroke="#1c1c1c" stroke-width="1.40" stroke-linejoin="round"/><path d="M113.6 712.7L104.7 697.5" fill="none" stroke="#1c1c1c" stroke-width="1.40" stroke-linejoin="round"/><path d="M265.2 497.4C261.9 500.9 259.0 505.6 255.4 508.0C252.3 510.1 248.7 510.5 245.3 511.8" fill="none" stroke="#1c1c1c" stroke-width="1.40" stroke-linejoin="round"/><path d="M228.5 511.8C223.1 513.9 216.9 514.2 212.4 518.1C206.9 522.9 203.1 532.9 199.7 540.9C196.3 548.9 194.1 557.6 192.2 566.1C190.3 574.5 189.3 581.5 188.4 591.4C187.2 605.3 186.9 628.0 187.1 642.0C187.2 651.9 188.5 660.3 188.4 667.3C188.3 672.3 187.9 675.3 187.4 680.0C186.7 685.8 186.5 693.1 184.5 699.4C182.4 706.0 177.7 712.2 174.9 718.7C172.2 725.1 169.0 731.3 168.1 738.1C167.1 745.1 168.0 753.6 169.5 760.0C170.7 765.4 173.0 769.0 175.4 774.2C178.3 780.6 182.8 788.1 186.1 795.5C189.5 803.1 192.7 811.5 195.5 819.2C198.2 826.5 201.4 834.1 202.7 840.6C203.7 845.7 203.4 850.1 203.8 854.8" fill="none" stroke="#1c1c1c" stroke-width="1.40" stroke-linejoin="round"/><path d="M294.3 497.4C288.0 507.7 282.2 519.7 275.3 528.2C269.4 535.4 262.7 540.0 256.4 545.9" fill="none" stroke="#1c1c1c" stroke-width="1.40" stroke-linejoin="round"/><path d="M228.5 553.6C224.8 555.3 220.4 555.9 217.4 558.6C214.1 561.6 211.7 566.3 209.9 571.2C207.7 577.0 207.1 584.3 206.1 591.4C204.9 599.3 203.8 607.4 203.5 616.7C203.1 628.0 204.6 643.2 204.8 654.6C205.0 663.9 205.9 672.2 204.9 680.0C204.0 687.0 202.1 693.0 200.0 699.4C197.9 705.9 194.1 711.8 192.3 718.7C190.4 726.0 189.6 734.7 189.4 742.0C189.3 748.4 189.6 753.7 190.8 760.0C192.2 767.4 194.8 775.9 197.9 783.7C201.1 791.7 205.7 801.0 209.8 807.4C212.9 812.2 215.5 816.4 219.2 819.2C222.6 821.8 227.1 823.2 231.1 824.0C235.0 824.8 239.1 823.1 242.9 824.0C247.0 825.0 251.4 827.2 254.8 829.9C258.2 832.7 261.2 836.5 263.1 840.6C265.0 844.8 265.0 850.1 266.0 854.8" fill="none" stroke="#1c1c1c" stroke-width="1.40" stroke-linejoin="round"/><path d="M317.1 497.4C312.5 506.8 308.0 516.4 303.2 525.7C298.3 535.1 293.2 544.5 288.0 553.5C283.0 562.2 276.2 570.5 272.8 578.8C269.9 585.9 269.2 591.9 267.9 600.0C266.1 610.8 264.1 625.4 264.3 638.1C264.5 650.8 269.0 665.7 269.0 676.2C269.0 683.6 269.0 689.6 266.7 695.2C264.6 700.5 260.5 705.9 256.2 709.0C252.3 711.9 247.5 712.9 242.6 713.9C237.2 715.0 230.2 713.2 225.2 714.9C220.7 716.4 216.4 718.8 213.6 722.6C210.2 727.2 208.6 735.5 207.8 742.0C207.0 748.4 207.1 755.7 208.7 761.3C210.1 766.2 212.6 770.9 215.7 774.2C218.6 777.2 222.8 778.5 226.4 780.7" fill="none" stroke="#1c1c1c" stroke-width="1.40" stroke-linejoin="round"/><path d="M245.3 781.3C246.9 781.9 248.1 782.1 250.0 783.1C253.6 784.9 259.8 788.5 264.3 792.6C269.5 797.3 274.4 804.3 278.6 810.5C282.7 816.6 286.7 823.2 289.3 829.5C291.6 835.1 293.3 841.5 294.0 846.2C294.5 849.5 294.1 851.9 294.2 854.8" fill="none" stroke="#1c1c1c" stroke-width="1.40" stroke-linejoin="round"/><path d="M353.6 498.6L355.2 497.4" fill="none" stroke="#1c1c1c" stroke-width="1.40" stroke-linejoin="round"/><path d="M331.0 518.1C325.1 525.7 318.4 532.8 313.3 540.9C308.3 548.9 303.6 557.5 300.6 566.1C297.8 574.3 296.8 581.7 295.6 591.4C294.0 604.1 293.1 621.3 293.3 635.7C293.5 649.5 296.8 664.5 296.4 676.2C296.1 685.2 295.8 693.4 292.9 700.0C290.3 705.8 284.2 709.1 281.0 714.3C277.8 719.4 275.4 725.6 273.8 731.0C272.4 735.8 271.5 740.3 271.4 745.2C271.3 750.5 272.1 756.1 273.8 761.9C275.8 768.7 279.7 776.5 283.3 783.3C286.8 790.0 291.7 796.1 295.2 802.4C298.5 808.3 301.0 814.8 304.0 820.0C306.6 824.4 309.9 827.1 311.9 831.9C314.5 838.1 315.1 847.2 316.7 854.8" fill="none" stroke="#1c1c1c" stroke-width="1.40" stroke-linejoin="round"/><path d="M396.7 497.4C391.6 502.6 386.6 508.0 381.5 513.0C376.5 517.9 371.4 522.3 366.4 527.0" fill="none" stroke="#1c1c1c" stroke-width="1.40" stroke-linejoin="round"/><path d="M350.0 543.4C344.5 548.5 338.3 552.8 333.5 558.6C328.6 564.6 323.5 571.7 320.9 578.8C318.4 585.5 318.8 591.5 317.9 600.0C316.6 612.7 314.3 633.4 314.8 647.6C315.2 659.1 319.4 669.3 319.0 678.6C318.7 686.4 316.7 693.2 314.3 700.0C311.9 706.7 307.4 712.3 304.8 719.0C302.2 725.8 299.8 733.3 298.8 740.5C297.8 747.6 297.6 754.7 298.8 761.9C300.1 769.7 303.7 778.4 307.1 785.7C310.2 792.4 313.7 798.3 318.0 804.0C322.3 809.8 328.5 815.7 333.0 820.0C336.3 823.2 339.1 825.0 342.0 828.0C345.2 831.3 349.2 834.7 351.2 839.0C353.3 843.6 353.1 849.5 354.0 854.8" fill="none" stroke="#1c1c1c" stroke-width="1.40" stroke-linejoin="round"/><path d="M430.8 497.4C422.8 506.0 415.1 514.2 406.8 523.2C397.9 532.9 386.9 543.6 379.0 553.5C372.1 562.1 365.1 570.4 361.3 578.8C358.1 585.9 357.5 592.1 356.0 600.0C354.2 609.8 351.7 621.5 351.9 633.3C352.1 646.7 358.6 665.2 358.3 676.2C358.1 683.1 356.6 688.6 354.8 692.9C353.5 695.9 352.3 697.4 350.0 700.0C346.3 704.2 337.9 708.7 333.3 714.3C328.7 719.8 324.8 726.7 322.6 733.3C320.6 739.5 319.6 746.1 320.2 752.4C320.8 758.8 323.2 766.3 326.2 771.4C328.7 775.6 332.5 778.1 335.7 781.5" fill="none" stroke="#1c1c1c" stroke-width="1.40" stroke-linejoin="round"/><path d="M361.9 801.0C366.7 805.3 371.9 809.0 376.2 814.0C380.7 819.2 385.0 825.3 388.1 831.9C391.4 838.8 392.8 847.2 395.2 854.8" fill="none" stroke="#1c1c1c" stroke-width="1.40" stroke-linejoin="round"/><path d="M465.0 497.4C455.7 506.8 446.1 515.9 437.2 525.7C428.4 535.5 418.9 545.8 411.9 556.0C405.7 565.2 399.9 572.6 396.7 583.8C392.5 598.5 393.4 621.3 394.0 638.1C394.5 652.6 399.5 667.7 398.8 678.6C398.3 686.2 397.2 691.6 394.0 697.6C390.3 704.5 381.3 710.1 376.2 716.7C371.5 722.8 366.6 729.3 364.3 735.7C362.3 741.2 361.1 747.2 361.9 752.4C362.7 757.5 366.5 762.8 369.0 766.7C370.9 769.7 373.0 771.6 375.0 774.0" fill="none" stroke="#1c1c1c" stroke-width="1.40" stroke-linejoin="round"/><path d="M390.5 790.3C396.0 796.2 402.0 801.7 407.1 808.1C412.3 814.7 417.6 821.8 421.4 829.5C425.2 837.3 427.0 846.4 429.8 854.8" fill="none" stroke="#1c1c1c" stroke-width="1.40" stroke-linejoin="round"/><path d="M490.3 506.7C481.9 514.7 472.9 521.9 465.0 530.7C456.8 539.9 447.6 551.0 442.2 561.1C437.7 569.6 435.0 579.2 433.4 586.4C432.3 591.6 432.6 594.3 432.1 600.0C431.2 609.5 428.4 625.2 428.6 638.1C428.8 651.4 434.2 667.3 433.3 678.6C432.7 686.9 430.9 693.7 427.4 700.0C423.8 706.4 416.1 710.6 411.9 716.7C407.8 722.6 404.2 729.2 402.4 735.7C400.7 741.9 400.2 748.8 401.2 754.8C402.2 760.7 405.6 767.3 408.3 771.4C410.2 774.3 412.4 775.8 414.5 778.0" fill="none" stroke="#1c1c1c" stroke-width="1.40" stroke-linejoin="round"/><path d="M435.2 800.5C439.3 805.4 443.7 809.8 447.6 815.2C451.8 821.0 456.7 827.6 459.5 834.3C462.2 840.8 462.7 848.0 464.3 854.8" fill="none" stroke="#1c1c1c" stroke-width="1.40" stroke-linejoin="round"/><path d="M490.3 547.2C484.4 556.0 476.9 564.9 472.6 573.7C468.9 581.3 466.7 587.6 465.0 596.5C462.8 608.2 462.2 624.3 462.6 638.1C463.0 651.7 468.0 667.0 467.1 678.6C466.4 687.7 464.4 695.3 460.7 702.4C457.1 709.5 449.2 714.8 445.2 721.4C441.5 727.5 438.1 733.8 436.9 740.5C435.7 747.3 436.0 755.7 438.1 761.9C439.9 767.4 445.4 773.3 447.6 776.2C448.6 777.5 449.2 778.1 450.0 779.0" fill="none" stroke="#1c1c1c" stroke-width="1.40" stroke-linejoin="round"/><path d="M464.3 794.5C468.3 799.0 472.3 802.7 476.2 808.1C481.0 814.8 485.7 824.0 490.5 831.9" fill="none" stroke="#1c1c1c" stroke-width="1.40" stroke-linejoin="round"/><path d="M489.3 708.3L482.1 716.7" fill="none" stroke="#1c1c1c" stroke-width="1.40" stroke-linejoin="round"/><path d="M471.4 755.0C471.8 757.3 471.7 759.8 472.6 762.0C473.5 764.3 475.2 766.2 476.9 768.5C478.9 771.4 481.7 774.9 484.0 778.0C486.2 780.9 488.4 783.7 490.6 786.5" fill="none" stroke="#1c1c1c" stroke-width="1.40" stroke-linejoin="round"/><path d="M104.7 793.4L119.9 769.5" fill="none" stroke="#1c1c1c" stroke-width="1.40" stroke-linejoin="round"/><path d="M148.9 778.3C153.9 784.2 159.4 789.7 164.0 796.0C168.7 802.4 173.3 809.3 176.7 816.2C179.9 822.7 182.5 829.6 184.2 836.3C185.8 842.5 185.9 848.6 186.8 854.8" fill="none" stroke="#1c1c1c" stroke-width="1.40" stroke-linejoin="round"/><path d="M104.7 842.7C107.7 835.5 110.0 827.6 113.6 821.2C116.8 815.5 121.1 811.1 124.9 806.0" fill="none" stroke="#1c1c1c" stroke-width="1.40" stroke-linejoin="round"/><path d="M142.6 808.6C146.4 814.5 150.8 820.2 154.0 826.2C157.1 832.0 160.1 838.6 161.5 843.9C162.6 847.9 162.4 851.2 162.8 854.8" fill="none" stroke="#1c1c1c" stroke-width="1.40" stroke-linejoin="round"/><path d="M104.9 629.3L104.9 645.8" fill="none" stroke="#1c1c1c" stroke-width="1.40" stroke-linejoin="round"/><text x="129.00" y="518.00" font-size="14.80" text-anchor="middle" font-weight="normal" font-family='"Liberation Sans", sans-serif' fill="#242424" transform="rotate(8.0 129.0 518.0)" dominant-baseline="central">5.5</text><text x="129.50" y="572.30" font-size="14.80" text-anchor="middle" font-weight="normal" font-family='"Liberation Sans", sans-serif' fill="#242424" dominant-baseline="central">5</text><text x="126.20" y="722.60" font-size="14.80" text-anchor="middle" font-weight="normal" font-family='"Liberation Sans", sans-serif' fill="#242424" transform="rotate(25.0 126.2 722.6)" dominant-baseline="central">4.5</text><text x="236.40" y="512.80" font-size="14.80" text-anchor="middle" font-weight="normal" font-family='"Liberation Sans", sans-serif' fill="#242424" dominant-baseline="central">4</text><text x="242.70" y="552.00" font-size="14.80" text-anchor="middle" font-weight="normal" font-family='"Liberation Sans", sans-serif' fill="#242424" transform="rotate(-10.0 242.7 552.0)" dominant-baseline="central">3.5</text><text x="237.00" y="781.70" font-size="14.80" text-anchor="middle" font-weight="normal" font-family='"Liberation Sans", sans-serif' fill="#242424" dominant-baseline="central">3</text><text x="343.30" y="508.30" font-size="14.80" text-anchor="middle" font-weight="normal" font-family='"Liberation Sans", sans-serif' fill="#242424" transform="rotate(-52.0 343.3 508.3)" dominant-baseline="central">2.5</text><text x="357.50" y="535.60" font-size="14.80" text-anchor="middle" font-weight="normal" font-family='"Liberation Sans", sans-serif' fill="#242424" transform="rotate(-45.0 357.5 535.6)" dominant-baseline="central">2</text><text x="349.50" y="792.00" font-size="14.80" text-anchor="middle" font-weight="normal" font-family='"Liberation Sans", sans-serif' fill="#242424" transform="rotate(40.0 349.5 792.0)" dominant-baseline="central">1.5</text><text x="382.80" y="782.50" font-size="14.80" text-anchor="middle" font-weight="normal" font-family='"Liberation Sans", sans-serif' fill="#242424" transform="rotate(50.0 382.8 782.5)" dominant-baseline="central">1</text><text x="424.00" y="790.80" font-size="14.80" text-anchor="middle" font-weight="normal" font-family='"Liberation Sans", sans-serif' fill="#242424" transform="rotate(50.0 424.0 790.8)" dominant-baseline="central">0.5</text><text x="458.30" y="787.60" font-size="14.80" text-anchor="middle" font-weight="normal" font-family='"Liberation Sans", sans-serif' fill="#242424" transform="rotate(50.0 458.3 787.6)" dominant-baseline="central">0</text><text x="477.60" y="736.00" font-size="14.80" text-anchor="middle" font-weight="normal" font-family='"Liberation Sans", sans-serif' fill="#242424" transform="rotate(-78.0 477.6 736.0)" dominant-baseline="central">&#8722;0.5</text><text x="135.00" y="774.30" font-size="14.80" text-anchor="middle" font-weight="normal" font-family='"Liberation Sans", sans-serif' fill="#242424" transform="rotate(15.0 135.0 774.3)" dominant-baseline="central">4.5</text><text x="132.50" y="807.20" font-size="14.80" text-anchor="middle" font-weight="normal" font-family='"Liberation Sans", sans-serif' fill="#242424" dominant-baseline="central">5</text><line x1="629.4" y1="483.5" x2="629.4" y2="870.6" stroke="#1c1c1c" stroke-width="1.60"/><line x1="628.6" y1="869.8" x2="1045.8" y2="869.8" stroke="#1c1c1c" stroke-width="1.60"/><line x1="645.0" y1="869.8" x2="645.0" y2="878.3" stroke="#1c1c1c" stroke-width="1.40"/><text x="645.00" y="896.30" font-size="17.70" text-anchor="middle" font-weight="normal" font-family='"Liberation Sans", sans-serif' fill="#242424">0.30</text><line x1="709.2" y1="869.8" x2="709.2" y2="878.3" stroke="#1c1c1c" stroke-width="1.40"/><text x="709.20" y="896.30" font-size="17.70" text-anchor="middle" font-weight="normal" font-family='"Liberation Sans", sans-serif' fill="#242424">0.35</text><line x1="773.4" y1="869.8" x2="773.4" y2="878.3" stroke="#1c1c1c" stroke-width="1.40"/><text x="773.40" y="896.30" font-size="17.70" text-anchor="middle" font-weight="normal" font-family='"Liberation Sans", sans-serif' fill="#242424">0.40</text><line x1="837.6" y1="869.8" x2="837.6" y2="878.3" stroke="#1c1c1c" stroke-width="1.40"/><text x="837.60" y="896.30" font-size="17.70" text-anchor="middle" font-weight="normal" font-family='"Liberation Sans", sans-serif' fill="#242424">0.45</text><line x1="901.8" y1="869.8" x2="901.8" y2="878.3" stroke="#1c1c1c" stroke-width="1.40"/><text x="901.80" y="896.30" font-size="17.70" text-anchor="middle" font-weight="normal" font-family='"Liberation Sans", sans-serif' fill="#242424">0.50</text><line x1="966.0" y1="869.8" x2="966.0" y2="878.3" stroke="#1c1c1c" stroke-width="1.40"/><text x="966.00" y="896.30" font-size="17.70" text-anchor="middle" font-weight="normal" font-family='"Liberation Sans", sans-serif' fill="#242424">0.55</text><line x1="1030.2" y1="869.8" x2="1030.2" y2="878.3" stroke="#1c1c1c" stroke-width="1.40"/><text x="1030.20" y="896.30" font-size="17.70" text-anchor="middle" font-weight="normal" font-family='"Liberation Sans", sans-serif' fill="#242424">0.60</text><line x1="620.9" y1="855.0" x2="629.4" y2="855.0" stroke="#1c1c1c" stroke-width="1.40"/><text x="613.80" y="855.00" font-size="17.70" text-anchor="middle" font-weight="normal" font-family='"Liberation Sans", sans-serif' fill="#242424" transform="rotate(-90.0 613.8 855.0)">0.30</text><line x1="620.9" y1="795.4" x2="629.4" y2="795.4" stroke="#1c1c1c" stroke-width="1.40"/><text x="613.80" y="795.40" font-size="17.70" text-anchor="middle" font-weight="normal" font-family='"Liberation Sans", sans-serif' fill="#242424" transform="rotate(-90.0 613.8 795.4)">0.35</text><line x1="620.9" y1="735.8" x2="629.4" y2="735.8" stroke="#1c1c1c" stroke-width="1.40"/><text x="613.80" y="735.80" font-size="17.70" text-anchor="middle" font-weight="normal" font-family='"Liberation Sans", sans-serif' fill="#242424" transform="rotate(-90.0 613.8 735.8)">0.40</text><line x1="620.9" y1="676.2" x2="629.4" y2="676.2" stroke="#1c1c1c" stroke-width="1.40"/><text x="613.80" y="676.20" font-size="17.70" text-anchor="middle" font-weight="normal" font-family='"Liberation Sans", sans-serif' fill="#242424" transform="rotate(-90.0 613.8 676.2)">0.45</text><line x1="620.9" y1="616.6" x2="629.4" y2="616.6" stroke="#1c1c1c" stroke-width="1.40"/><text x="613.80" y="616.60" font-size="17.70" text-anchor="middle" font-weight="normal" font-family='"Liberation Sans", sans-serif' fill="#242424" transform="rotate(-90.0 613.8 616.6)">0.50</text><line x1="620.9" y1="557.0" x2="629.4" y2="557.0" stroke="#1c1c1c" stroke-width="1.40"/><text x="613.80" y="557.00" font-size="17.70" text-anchor="middle" font-weight="normal" font-family='"Liberation Sans", sans-serif' fill="#242424" transform="rotate(-90.0 613.8 557.0)">0.55</text><line x1="620.9" y1="497.4" x2="629.4" y2="497.4" stroke="#1c1c1c" stroke-width="1.40"/><text x="613.80" y="497.40" font-size="17.70" text-anchor="middle" font-weight="normal" font-family='"Liberation Sans", sans-serif' fill="#242424" transform="rotate(-90.0 613.8 497.4)">0.60</text><g transform="translate(830.60 916.80)"><path d="M12.9 0.4C12 4 10.5 9 7 11.6C4.6 13.3 0.5 12.2 0.5 6.6C0.5 2.6 3.5 0.3 6.8 0.3C10 0.3 11.1 6 12.2 10C12.8 12 14 12.6 15.4 10.9" fill="none" stroke="#242424" stroke-width="1.4"/><path d="M5.2 12.1C2.2 11.8 1.1 9.4 1.1 6.6C1.1 3.8 2.6 1.2 5.3 0.8" fill="none" stroke="#242424" stroke-width="1.9"/></g><g transform="translate(568.00 686.00) rotate(-90)"><path d="M12.9 0.4C12 4 10.5 9 7 11.6C4.6 13.3 0.5 12.2 0.5 6.6C0.5 2.6 3.5 0.3 6.8 0.3C10 0.3 11.1 6 12.2 10C12.8 12 14 12.6 15.4 10.9" fill="none" stroke="#242424" stroke-width="1.4"/><path d="M5.2 12.1C2.2 11.8 1.1 9.4 1.1 6.6C1.1 3.8 2.6 1.2 5.3 0.8" fill="none" stroke="#242424" stroke-width="1.9"/></g><line x1="553.5" y1="665.5" x2="566.3" y2="670.1" stroke="#242424" stroke-width="1.20"/><text x="562.90" y="492.90" font-size="30.50" text-anchor="start" font-weight="bold" font-family='"Liberation Sans", sans-serif' fill="#181818">D</text><path d="M645.1 516.8C646.9 518.0 648.7 519.1 650.5 520.3C652.5 521.6 654.5 523.0 656.5 524.4" fill="none" stroke="#1c1c1c" stroke-width="1.40" stroke-linejoin="round"/><path d="M686.8 520.1C691.9 516.6 697.1 513.3 702.2 509.6C707.6 505.7 712.9 501.4 718.3 497.3" fill="none" stroke="#1c1c1c" stroke-width="1.40" stroke-linejoin="round"/><path d="M645.1 552.2C647.4 553.9 649.7 555.5 652.0 557.2C654.3 558.9 656.7 560.6 659.0 562.3" fill="none" stroke="#1c1c1c" stroke-width="1.40" stroke-linejoin="round"/><path d="M677.7 562.8C682.1 560.0 686.6 557.7 691.0 554.4C695.8 550.8 700.3 545.8 705.0 541.8C709.6 537.9 714.5 534.8 719.0 530.6C723.9 526.0 728.3 520.6 733.0 515.2C738.0 509.5 743.3 503.3 748.4 497.3" fill="none" stroke="#1c1c1c" stroke-width="1.40" stroke-linejoin="round"/><path d="M644.8 592.9C648.5 597.3 651.9 602.4 656.0 606.1C659.9 609.5 664.7 613.7 668.6 614.5C671.5 615.1 674.2 614.7 677.0 613.1C681.6 610.5 686.3 601.8 691.0 596.4C695.6 591.1 700.3 586.0 705.0 581.0C709.6 576.2 714.5 572.1 719.0 567.0C723.9 561.5 728.6 554.4 733.0 548.8C736.9 543.8 740.2 538.7 744.2 534.8C747.7 531.4 751.6 529.2 755.3 526.4" fill="none" stroke="#1c1c1c" stroke-width="1.40" stroke-linejoin="round"/><path d="M785.2 514.8C789.0 512.0 792.7 509.4 796.5 506.5C800.4 503.6 804.2 500.4 808.1 497.4" fill="none" stroke="#1c1c1c" stroke-width="1.40" stroke-linejoin="round"/><path d="M645.7 655.2C647.5 656.6 649.2 658.0 651.0 659.3C652.7 660.6 654.5 661.7 656.2 662.9" fill="none" stroke="#1c1c1c" stroke-width="1.40" stroke-linejoin="round"/><path d="M674.3 666.7C679.4 663.5 684.6 661.0 689.5 657.1C694.8 652.8 700.2 647.1 704.8 641.9C709.1 637.0 713.1 631.7 716.2 626.7C718.9 622.3 720.2 618.5 722.5 613.5C725.6 607.0 728.9 597.9 733.0 590.8C737.1 583.8 741.6 576.9 747.0 571.2C752.3 565.7 758.5 560.6 765.0 557.2C771.3 553.9 778.8 554.1 785.2 551.0C791.9 547.7 798.2 542.8 804.3 537.6C810.9 532.1 816.9 525.2 823.3 518.6C829.9 511.8 836.6 504.5 843.3 497.4" fill="none" stroke="#1c1c1c" stroke-width="1.40" stroke-linejoin="round"/><path d="M645.7 689.5C647.5 690.8 649.2 692.2 651.0 693.5C652.7 694.8 654.5 695.9 656.2 697.1" fill="none" stroke="#1c1c1c" stroke-width="1.40" stroke-linejoin="round"/><path d="M687.6 693.3C692.7 689.5 697.8 685.7 702.9 681.9C708.0 678.1 713.6 674.7 718.1 670.5C722.4 666.4 726.3 661.9 729.5 657.1C732.6 652.4 734.7 647.3 737.1 641.9C739.8 636.0 742.4 628.3 744.8 622.9C746.6 618.7 747.7 615.1 750.0 612.0C752.2 609.0 755.1 606.3 758.0 604.5C760.6 602.9 762.9 602.8 766.2 601.4C771.3 599.3 779.6 596.4 785.2 592.4C790.8 588.4 795.1 582.7 800.0 577.5C805.1 572.0 810.1 565.8 815.2 560.1C820.3 554.4 825.3 548.7 830.5 543.3C835.5 538.0 840.5 532.8 845.7 528.1C850.7 523.7 855.8 519.5 861.0 515.9C866.0 512.5 870.6 509.7 876.2 506.8C882.6 503.5 890.4 500.5 897.5 497.4" fill="none" stroke="#1c1c1c" stroke-width="1.40" stroke-linejoin="round"/><path d="M645.3 727.2C646.4 730.0 647.2 732.9 648.5 735.5C649.8 738.0 651.2 740.1 653.0 742.5C655.1 745.4 658.1 748.4 660.6 751.4" fill="none" stroke="#1c1c1c" stroke-width="1.40" stroke-linejoin="round"/><path d="M677.0 754.1C678.3 752.8 679.6 752.1 681.0 750.1C683.7 746.0 685.9 735.4 689.5 729.5C692.7 724.3 696.7 720.3 701.0 716.2C705.5 712.0 711.4 708.9 716.2 704.8C720.9 700.7 725.4 696.2 729.5 691.4C733.6 686.6 736.8 680.7 741.0 676.2C745.1 671.9 749.2 667.9 754.3 664.8C759.8 661.4 767.1 659.9 773.3 657.1C779.5 654.4 786.7 652.2 791.4 648.3C795.5 644.9 797.8 640.4 800.6 635.7C803.6 630.6 805.9 624.2 808.6 618.6C811.2 613.2 813.9 607.2 816.6 602.6C818.9 598.8 820.7 596.2 823.5 592.5C827.4 587.4 833.1 580.8 838.1 575.3C843.0 570.0 848.1 564.8 853.3 560.1C858.3 555.7 862.8 551.9 868.6 547.9C875.3 543.2 883.7 538.3 891.4 534.2C898.9 530.2 907.0 527.2 914.3 523.5C921.2 520.0 927.8 517.1 934.1 512.9C940.7 508.5 946.8 502.6 953.1 497.4" fill="none" stroke="#1c1c1c" stroke-width="1.40" stroke-linejoin="round"/><path d="M645.2 772.9L650.0 774.5" fill="none" stroke="#1c1c1c" stroke-width="1.40" stroke-linejoin="round"/><path d="M678.5 781.6C684.7 778.2 690.7 775.4 697.0 771.5C704.1 767.1 714.0 762.0 719.0 756.2C723.0 751.6 724.5 746.5 726.7 741.0C729.1 735.1 730.4 727.1 732.4 721.9C733.9 718.1 735.0 715.2 737.1 712.4C739.3 709.5 742.2 707.3 745.7 704.8C750.3 701.5 756.6 698.0 762.9 695.2C769.8 692.1 779.6 690.6 785.7 687.6C790.3 685.3 793.4 682.6 797.1 680.0C800.7 677.5 803.8 675.7 807.4 672.3C812.4 667.7 818.7 660.3 823.4 654.0C827.8 648.1 831.5 642.1 834.9 635.7C838.4 629.2 840.7 621.1 844.0 615.1C846.8 610.1 849.7 606.2 853.1 602.0C856.6 597.7 860.6 593.4 864.6 589.6C868.3 586.0 871.5 583.1 876.2 579.9C882.4 575.7 891.4 572.0 899.0 567.7C906.7 563.4 914.4 559.0 921.9 554.0C929.7 548.9 937.5 542.7 944.8 537.2C951.6 532.1 957.3 528.1 964.3 522.4C973.0 515.3 983.4 505.7 992.9 497.4" fill="none" stroke="#1c1c1c" stroke-width="1.40" stroke-linejoin="round"/><path d="M644.9 810.5L655.7 819.1" fill="none" stroke="#1c1c1c" stroke-width="1.40" stroke-linejoin="round"/><path d="M682.4 844.1L694.0 855.3" fill="none" stroke="#1c1c1c" stroke-width="1.40" stroke-linejoin="round"/><path d="M732.1 855.5C729.7 852.1 726.6 849.2 724.8 845.3C722.8 840.9 720.3 835.4 721.0 830.1C721.9 823.6 728.5 816.0 732.4 809.5C736.1 803.5 739.5 797.3 743.8 792.4C747.8 787.9 752.7 784.8 757.1 781.0" fill="none" stroke="#1c1c1c" stroke-width="1.40" stroke-linejoin="round"/><path d="M795.2 767.6C799.0 765.1 803.3 763.3 806.7 760.0C810.4 756.4 813.7 751.8 816.2 746.7C818.9 741.1 819.6 733.7 821.9 727.6C824.1 721.7 825.8 715.5 829.5 710.5C833.3 705.3 839.3 700.9 844.8 697.1C850.2 693.3 856.1 690.6 861.9 687.6C867.8 684.5 873.8 682.1 880.0 678.9C886.8 675.4 893.7 671.4 901.0 667.5C908.8 663.3 918.5 659.6 925.3 654.6C931.2 650.3 935.2 646.0 939.9 640.0C945.8 632.4 951.1 620.7 956.7 611.9C961.8 603.8 965.7 596.6 971.9 589.0C979.2 580.1 989.3 571.6 998.6 562.4C1008.6 552.4 1019.5 541.5 1030.0 531.0" fill="none" stroke="#1c1c1c" stroke-width="1.40" stroke-linejoin="round"/><path d="M782.7 855.5C776.9 854.0 770.5 853.8 765.4 851.1C760.4 848.5 753.9 843.7 752.3 839.6C751.1 836.6 752.0 833.2 753.3 830.1C755.0 826.3 759.7 822.7 762.9 819.0" fill="none" stroke="#1c1c1c" stroke-width="1.40" stroke-linejoin="round"/><path d="M787.6 806.7C794.0 801.9 800.5 797.5 806.7 792.4C813.2 787.1 819.9 781.3 825.7 775.2C831.3 769.2 836.5 762.7 841.0 756.2C845.3 750.0 849.1 743.1 852.4 737.1C855.3 732.0 856.9 726.6 860.0 722.5C862.8 718.8 866.1 715.8 870.0 713.2C874.3 710.3 879.6 708.2 885.0 706.3C890.9 704.2 897.7 704.0 904.3 701.5C912.1 698.5 920.6 693.4 928.6 688.6C936.8 683.7 945.7 677.7 952.9 672.4C959.0 668.0 964.1 664.5 969.1 659.4C974.5 653.9 979.0 647.3 983.6 640.0C988.9 631.7 993.5 621.1 998.6 611.9C1003.6 602.9 1008.1 592.8 1013.8 585.2C1018.8 578.5 1024.6 573.8 1030.0 568.1" fill="none" stroke="#1c1c1c" stroke-width="1.40" stroke-linejoin="round"/><path d="M822.9 855.3C820.4 851.5 817.3 848.0 815.3 843.9C813.2 839.6 810.3 834.9 810.5 830.1C810.7 824.7 814.8 819.0 818.1 813.3C822.0 806.5 827.5 798.5 833.3 792.4C839.0 786.5 845.6 781.1 852.4 777.1C858.9 773.3 866.3 771.4 873.3 768.6" fill="none" stroke="#1c1c1c" stroke-width="1.40" stroke-linejoin="round"/><path d="M910.0 750.9C912.4 748.5 915.1 746.6 917.2 743.6C919.7 740.1 921.0 734.7 923.7 730.7C926.4 726.6 929.4 723.3 933.4 719.3C938.6 714.2 946.1 708.9 952.9 703.1C960.6 696.6 969.2 689.3 977.2 682.1C985.4 674.8 994.1 666.8 1001.4 659.4C1007.9 652.8 1014.3 646.8 1019.2 640.0C1023.7 633.8 1026.4 627.0 1030.0 620.5" fill="none" stroke="#1c1c1c" stroke-width="1.40" stroke-linejoin="round"/><path d="M860.7 855.3C857.3 852.3 852.9 850.2 850.6 846.4C848.1 842.3 846.5 836.2 846.8 831.3C847.1 826.4 849.1 821.5 852.4 817.1C856.5 811.5 865.0 806.4 871.4 801.9C877.5 797.6 883.7 793.8 890.0 790.5C895.9 787.4 902.0 785.2 908.0 782.5" fill="none" stroke="#1c1c1c" stroke-width="1.40" stroke-linejoin="round"/><path d="M931.8 772.0C937.2 769.0 943.0 766.3 948.0 763.1C952.7 760.1 957.8 757.4 961.0 753.3C964.2 749.3 965.3 743.8 967.4 738.8C969.6 733.6 970.6 727.8 973.9 722.6C977.8 716.4 984.3 710.4 990.1 704.8C996.1 699.1 1002.9 694.0 1009.5 688.6C1016.4 683.0 1023.6 677.3 1030.6 671.6" fill="none" stroke="#1c1c1c" stroke-width="1.40" stroke-linejoin="round"/><path d="M927.6 855.3C921.3 851.5 912.7 848.6 908.7 843.9C905.6 840.2 903.1 835.1 903.6 831.3C904.1 827.6 908.7 824.6 911.2 821.2" fill="none" stroke="#1c1c1c" stroke-width="1.40" stroke-linejoin="round"/><path d="M941.5 798.5C944.7 795.7 947.3 792.9 951.2 790.0C956.5 786.1 964.1 782.3 970.7 777.6C978.1 772.4 987.6 765.9 993.3 759.8C997.7 755.0 1000.7 750.4 1003.1 745.2C1005.5 740.1 1005.7 734.0 1007.9 729.1C1010.0 724.4 1012.5 720.0 1016.0 716.1C1019.9 711.8 1025.7 708.6 1030.6 704.8" fill="none" stroke="#1c1c1c" stroke-width="1.40" stroke-linejoin="round"/><path d="M971.8 855.3C968.4 852.3 964.2 850.1 961.7 846.4C959.1 842.6 956.6 837.2 956.6 832.6C956.6 828.0 958.8 823.6 961.7 818.7C965.9 811.7 974.4 803.0 981.9 796.0C989.7 788.7 999.2 782.7 1007.9 776.0" fill="none" stroke="#1c1c1c" stroke-width="1.40" stroke-linejoin="round"/><path d="M1027.3 759.8L1030.5 758.0" fill="none" stroke="#1c1c1c" stroke-width="1.40" stroke-linejoin="round"/><path d="M1009.6 855.3C1005.4 850.7 998.9 846.3 997.0 841.4C995.4 837.4 995.5 832.5 997.0 828.8C998.6 824.9 1003.7 822.1 1007.1 818.7" fill="none" stroke="#1c1c1c" stroke-width="1.40" stroke-linejoin="round"/><path d="M1026.0 789.6L1030.0 786.7" fill="none" stroke="#1c1c1c" stroke-width="1.40" stroke-linejoin="round"/><text x="671.60" y="523.00" font-size="14.80" text-anchor="middle" font-weight="normal" font-family='"Liberation Sans", sans-serif' fill="#242424" dominant-baseline="central">3.5</text><text x="669.10" y="563.40" font-size="14.80" text-anchor="middle" font-weight="normal" font-family='"Liberation Sans", sans-serif' fill="#242424" dominant-baseline="central">3</text><text x="771.50" y="521.70" font-size="14.80" text-anchor="middle" font-weight="normal" font-family='"Liberation Sans", sans-serif' fill="#242424" transform="rotate(-15.0 771.5 521.7)" dominant-baseline="central">2.5</text><text x="664.80" y="665.80" font-size="14.80" text-anchor="middle" font-weight="normal" font-family='"Liberation Sans", sans-serif' fill="#242424" dominant-baseline="central">2</text><text x="671.60" y="695.80" font-size="14.80" text-anchor="middle" font-weight="normal" font-family='"Liberation Sans", sans-serif' fill="#242424" dominant-baseline="central">1.5</text><text x="668.90" y="754.00" font-size="14.80" text-anchor="middle" font-weight="normal" font-family='"Liberation Sans", sans-serif' fill="#242424" dominant-baseline="central">1</text><text x="664.00" y="778.50" font-size="14.80" text-anchor="middle" font-weight="normal" font-family='"Liberation Sans", sans-serif' fill="#242424" dominant-baseline="central">0.5</text><text x="660.40" y="825.60" font-size="14.80" text-anchor="middle" font-weight="normal" font-family='"Liberation Sans", sans-serif' fill="#242424" transform="rotate(50.0 660.4 825.6)" dominant-baseline="central">0</text><text x="677.60" y="837.20" font-size="14.80" text-anchor="middle" font-weight="normal" font-family='"Liberation Sans", sans-serif' fill="#242424" transform="rotate(50.0 677.6 837.2)" dominant-baseline="central">0</text><text x="777.50" y="773.80" font-size="14.80" text-anchor="middle" font-weight="normal" font-family='"Liberation Sans", sans-serif' fill="#242424" transform="rotate(-12.0 777.5 773.8)" dominant-baseline="central">&#8722;0.5</text><text x="776.20" y="813.00" font-size="14.80" text-anchor="middle" font-weight="normal" font-family='"Liberation Sans", sans-serif' fill="#242424" transform="rotate(-30.0 776.2 813.0)" dominant-baseline="central">&#8722;1</text><text x="891.50" y="759.50" font-size="14.80" text-anchor="middle" font-weight="normal" font-family='"Liberation Sans", sans-serif' fill="#242424" transform="rotate(-22.0 891.5 759.5)" dominant-baseline="central">&#8722;1.5</text><text x="921.50" y="776.00" font-size="14.80" text-anchor="middle" font-weight="normal" font-family='"Liberation Sans", sans-serif' fill="#242424" transform="rotate(-22.0 921.5 776.0)" dominant-baseline="central">&#8722;2</text><text x="928.90" y="809.80" font-size="14.80" text-anchor="middle" font-weight="normal" font-family='"Liberation Sans", sans-serif' fill="#242424" transform="rotate(-35.0 928.9 809.8)" dominant-baseline="central">&#8722;2.5</text><text x="1019.20" y="767.90" font-size="14.80" text-anchor="middle" font-weight="normal" font-family='"Liberation Sans", sans-serif' fill="#242424" transform="rotate(-35.0 1019.2 767.9)" dominant-baseline="central">&#8722;3</text><text x="1017.20" y="801.00" font-size="14.80" text-anchor="middle" font-weight="normal" font-family='"Liberation Sans", sans-serif' fill="#242424" transform="rotate(-45.0 1017.2 801.0)" dominant-baseline="central">&#8722;3.5</text><line x1="629.4" y1="869.8" x2="1045.4" y2="483.3" stroke="#141414" stroke-width="3.90"/></svg></body></html>
